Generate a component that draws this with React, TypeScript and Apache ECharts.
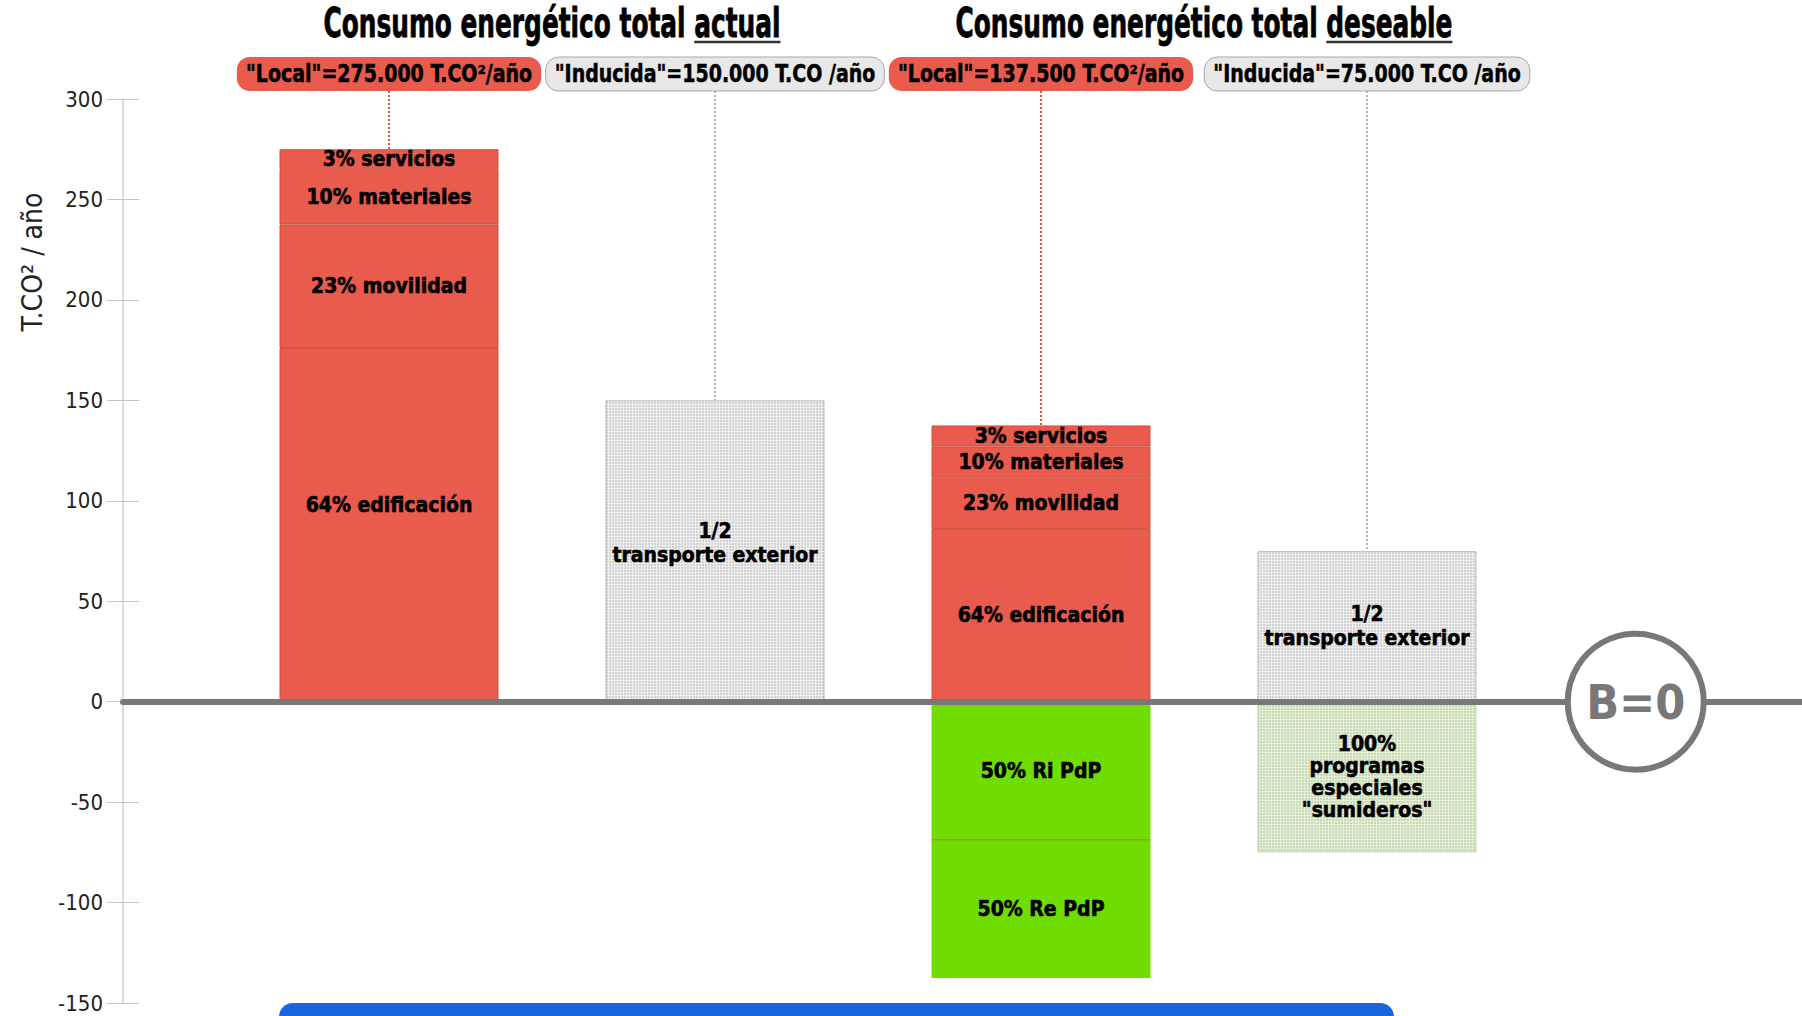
import React, { useEffect, useRef } from 'react';
import * as echarts from 'echarts';

// ---- data ----
const categories = ['Local actual', 'Inducida actual', 'Local deseable', 'Inducida deseable'];
const edificacion = [176, null, 86, null];
const movilidad = [61.5, null, 25.5, null];
const materiales = [27.5, null, 15.5, null];
const servicios = [10, null, 10.5, null];
const inducida = [null, 150, null, 75];
const riPdP = [null, null, -68.75, null];
const rePdP = [null, null, -68.75, null];
const sumideros = [null, null, null, -75];
const balancePoint = [4.82, 0];
const yMin = -150;
const yMax = 300;
const yInterval = 50;
const titleLead = 'Consumo energético total ';
const titleWords = ['actual', 'deseable'];
const pillLabels = [
  '"Local"=275.000 T.CO²/año',
  '"Inducida"=150.000 T.CO /año',
  '"Local"=137.500 T.CO²/año',
  '"Inducida"=75.000 T.CO /año',
];
const yAxisName = 'T.CO² / año';

const NARROW = '"DejaVu Sans Condensed", "DejaVu Sans", sans-serif';
const RED = '#E95B4C';
const GREEN = '#6FDD00';
const BAR_WIDTH = 219;

function measure(text: string, size: number, weight = 'bold') {
  const c = document.createElement('canvas').getContext('2d')!;
  c.font = `${weight} ${size}px ${NARROW}`;
  return c.measureText(text).width;
}

const labelBase = {
  show: true,
  position: 'inside',
  color: '#000',
  fontFamily: NARROW,
  fontWeight: 'bold',
  fontSize: 21,
  lineHeight: 21,
  textBorderColor: '#000',
  textBorderWidth: 0.6,
};

function barSeries(
  name: string,
  values: (number | null)[],
  itemStyle: any,
  text: string,
  labelExtra: any = {},
  itemLabel: Record<number, any> = {}
) {
  return {
    type: 'bar',
    name,
    stack: 'total',
    xAxisIndex: 1,
    yAxisIndex: 2,
    barWidth: BAR_WIDTH,
    data: values.map((v, i) => {
      if (v == null) return '-';
      return itemLabel[i] ? { value: v, label: itemLabel[i] } : v;
    }),
    itemStyle,
    label: { ...labelBase, formatter: text, ...labelExtra },
    emphasis: { disabled: true },
  };
}

const redStyle = { color: RED, borderColor: '#d24f41', borderWidth: 1 };
const greyStyle = {
  color: '#efefef',
  borderColor: '#b0b0b0',
  borderWidth: 1,
  borderType: 'dotted',
  decal: { symbol: 'circle', symbolSize: 0.9, color: 'rgba(90,90,90,0.28)', dashArrayX: [2, 1], dashArrayY: [2, 1] },
};
const lightGreenStyle = {
  color: '#e4f0d6',
  borderColor: '#b8c8a8',
  borderWidth: 1,
  borderType: 'dotted',
  decal: { symbol: 'circle', symbolSize: 0.9, color: 'rgba(100,130,80,0.3)', dashArrayX: [2, 1], dashArrayY: [2, 1] },
};

export default function App() {
  const ref = useRef<HTMLDivElement>(null);
  useEffect(() => {
    const chart = echarts.init(ref.current!, null, { renderer: 'svg' });
    const yAxisCommon = { type: 'value', min: yMin, max: yMax, interval: yInterval, splitLine: { show: false } };
    chart.setOption({
      animation: false,
      backgroundColor: '#fff',
      grid: [
        { left: 123, right: 0, top: 99, bottom: 13 },
        { left: 226, right: 272, top: 99, bottom: 13 },
      ],
      xAxis: [
        {
          gridIndex: 0,
          type: 'value',
          min: 0.18,
          max: 5.33,
          z: 10,
          axisLine: { show: true, onZero: true, lineStyle: { color: '#787878', width: 6 } },
          axisTick: { show: false },
          axisLabel: { show: false },
          splitLine: { show: false },
        },
        {
          gridIndex: 1,
          type: 'category',
          data: categories,
          show: false,
        },
      ],
      yAxis: [
        {
          ...yAxisCommon,
          gridIndex: 0,
          axisLine: { show: true, lineStyle: { color: '#cfcfcf', width: 1.5 } },
          axisTick: { show: true, length: 16, lineStyle: { color: '#c4c4c4' } },
          axisLabel: { color: '#222', fontSize: 22, fontFamily: NARROW, margin: 20 },
        },
        {
          ...yAxisCommon,
          gridIndex: 0,
          position: 'left',
          axisLine: { show: false },
          axisTick: { show: true, inside: true, length: 16, lineStyle: { color: '#c4c4c4' } },
          axisLabel: { show: false },
        },
        { ...yAxisCommon, gridIndex: 1, show: false },
      ],
      series: [
        barSeries('edificación', edificacion, redStyle, '64% edificación', {}, { 0: { offset: [0, -20] } }),
        barSeries('movilidad', movilidad, redStyle, '23% movilidad'),
        barSeries('materiales', materiales, redStyle, '10% materiales'),
        barSeries('servicios', servicios, redStyle, '3% servicios'),
        barSeries('inducida', inducida, greyStyle, '1/2\ntransporte exterior', { lineHeight: 24 }, { 1: { offset: [0, -8] } }),
        barSeries('Ri PdP', riPdP, { color: GREEN }, '50% Ri PdP'),
        barSeries('Re PdP', rePdP, { color: GREEN }, '50% Re PdP'),
        barSeries('sumideros', sumideros, lightGreenStyle, '100%\nprogramas\nespeciales\n"sumideros"', { lineHeight: 22 }),
        {
          type: 'scatter',
          name: 'B=0',
          xAxisIndex: 0,
          yAxisIndex: 0,
          data: [balancePoint],
          symbol: 'circle',
          symbolSize: 136,
          z: 12,
          silent: true,
          itemStyle: { color: '#fff', borderColor: '#787878', borderWidth: 6, opacity: 1 },
          label: { show: true, position: 'inside', formatter: 'B=0', color: '#787878', fontSize: 48, fontWeight: 'bold', fontFamily: NARROW },
        },
      ],
    });

    const px = (i: number, y: number) => chart.convertToPixel({ xAxisIndex: 1, yAxisIndex: 2 }, [categories[i], y]) as number[];
    const allPos = [edificacion, movilidad, materiales, servicios, inducida];
    const totals = categories.map((_, i) => allPos.reduce((s, arr) => s + (arr[i] ?? 0), 0));
    const centers = categories.map((_, i) => px(i, 0)[0]);

    const graphics: any[] = [];
    // titles
    const tfs = 40;
    const tsx = 0.69;
    [0, 1].forEach((k) => {
      const cx = (centers[2 * k] + centers[2 * k + 1]) / 2;
      const full = titleLead + titleWords[k];
      const wFull = measure(full, tfs) * tsx;
      const wWord = measure(titleWords[k], tfs) * tsx;
      graphics.push({
        type: 'text',
        x: cx,
        y: 23,
        scaleX: tsx,
        style: {
          text: full, fill: '#000', stroke: '#000', lineWidth: 0.8,
          fontSize: tfs, fontWeight: 'bold', fontFamily: NARROW, align: 'center', verticalAlign: 'middle',
        },
      });
      graphics.push({
        type: 'line',
        shape: { x1: cx + wFull / 2 - wWord, y1: 42, x2: cx + wFull / 2, y2: 42 },
        style: { stroke: '#333', lineWidth: 2.5 },
      });
    });
    // pills + connectors
    const pfs = 24;
    const psx = 0.88;
    categories.forEach((_, i) => {
      const cx = centers[i];
      const isLocal = i % 2 === 0;
      const w = measure(pillLabels[i], pfs) * psx + 18;
      const topY = px(i, totals[i])[1];
      graphics.push({
        type: 'line',
        shape: { x1: cx, y1: 91, x2: cx, y2: topY },
        style: { stroke: isLocal ? '#e0584a' : '#b5b5b5', lineWidth: 2, lineDash: [2, 2] },
      });
      graphics.push({
        type: 'rect',
        shape: { x: cx - w / 2, y: 57, width: w, height: 34, r: 13 },
        style: isLocal ? { fill: RED } : { fill: '#e8e8e8', stroke: '#a8a8a8', lineWidth: 1 },
      });
      graphics.push({
        type: 'text',
        x: cx,
        y: 74,
        scaleX: psx,
        style: {
          text: pillLabels[i], fill: '#000', stroke: '#000', lineWidth: 0.5,
          fontSize: pfs, fontWeight: 'bold', fontFamily: NARROW, align: 'center', verticalAlign: 'middle',
        },
      });
    });
    // divider between the two green segments
    const divY = px(2, riPdP[2] as number)[1];
    graphics.push({
      type: 'line',
      z: 5,
      shape: { x1: centers[2] - BAR_WIDTH / 2, y1: divY, x2: centers[2] + BAR_WIDTH / 2, y2: divY },
      style: { stroke: '#cf6a3c', lineWidth: 1 },
    });
    // y axis name
    graphics.push({
      type: 'text',
      x: 32,
      y: 262,
      rotation: Math.PI / 2,
      style: { text: yAxisName, fill: '#222', fontSize: 28, fontFamily: NARROW, align: 'center', verticalAlign: 'middle' },
    });
    // blue band at bottom
    graphics.push({
      type: 'rect',
      shape: { x: 279, y: 1003, width: 1115, height: 40, r: 14 },
      style: { fill: '#1766E0' },
    });
    chart.setOption({ graphic: graphics });

    return () => chart.dispose();
  }, []);
  return (
    <div
      ref={ref}
      style={{ position: 'absolute', left: 0, top: 0, width: 1802, height: 1016, background: '#fff' }}
    />
  );
}
